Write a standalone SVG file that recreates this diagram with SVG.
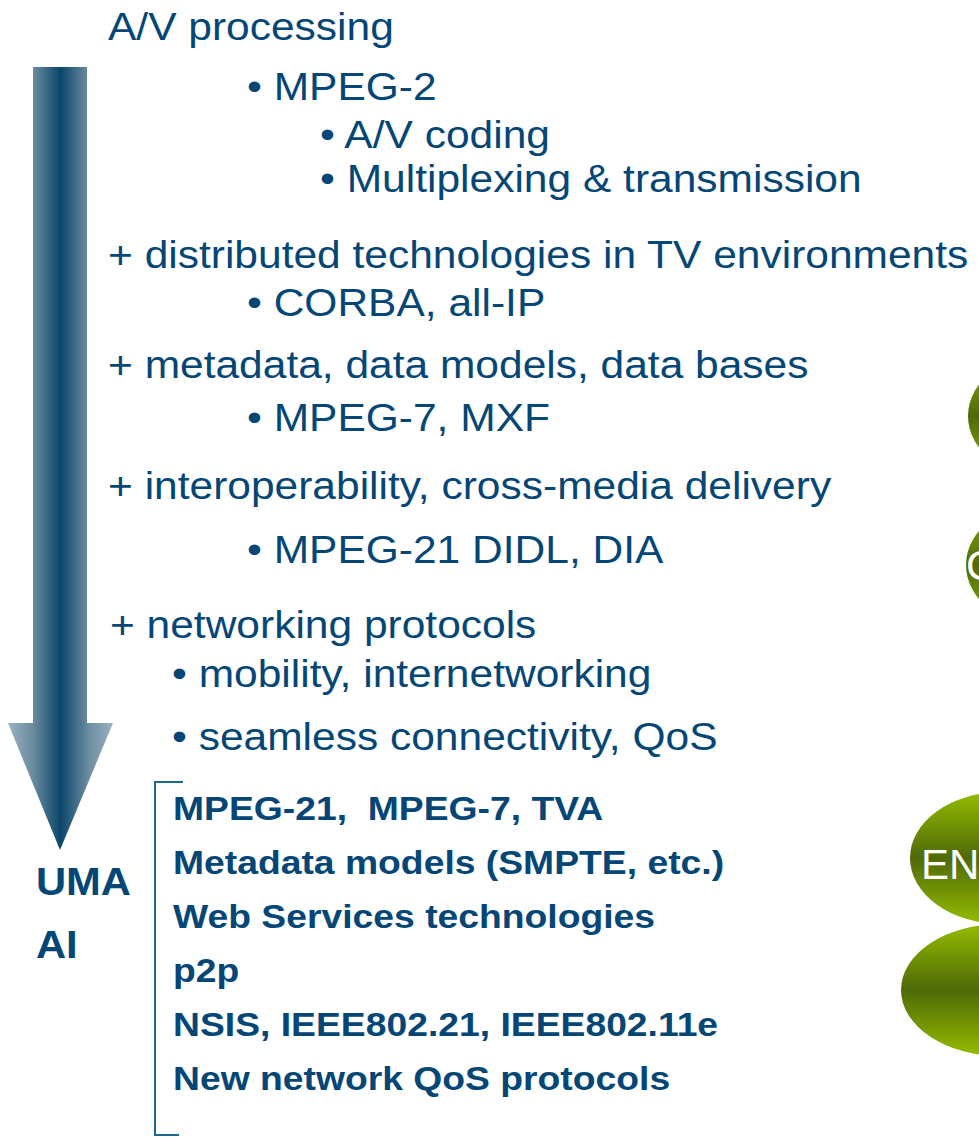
<svg xmlns="http://www.w3.org/2000/svg" width="979" height="1138" viewBox="0 0 979 1138">
  <defs>
    <linearGradient id="arrowShade" gradientUnits="userSpaceOnUse" x1="8" y1="0" x2="113" y2="0">
      <stop offset="0" stop-color="#9ab2c1"/>
      <stop offset="0.24" stop-color="#6a8ba0"/>
      <stop offset="0.5" stop-color="#0b466a"/>
      <stop offset="0.76" stop-color="#6a8ba0"/>
      <stop offset="1" stop-color="#9ab2c1"/>
    </linearGradient>
    <linearGradient id="leafShade" x1="0" y1="0" x2="0" y2="1">
      <stop offset="0" stop-color="#94bc00"/>
      <stop offset="0.5" stop-color="#4f6907"/>
      <stop offset="1" stop-color="#94bc00"/>
    </linearGradient>
    <style>
      .txt { font-family: "Liberation Sans", Arial, sans-serif; fill: #044676; }
      .reg { font-size: 39px; }
      .bold { font-size: 33px; font-weight: bold; }
      .big { font-size: 39px; font-weight: bold; }
      .leaf { fill: url(#leafShade); }
      .leafTxt { font-family: "Liberation Sans", Arial, sans-serif; fill: #ffffff; font-size: 42px; }
      .bracket { fill: none; stroke: #1d6a8c; stroke-width: 2; }
    </style>
  </defs>

  <!-- downward evolution arrow -->
  <g id="arrow">
    <path d="M33 67 H87 V723 H113 L60 850 L8 723 H33 Z" fill="url(#arrowShade)"/>
  </g>

  <!-- green ellipses at the right edge -->
  <g id="leaf1"><ellipse class="leaf" cx="1058" cy="416" rx="90" ry="66"/></g>
  <g id="leaf2">
    <ellipse class="leaf" cx="1056" cy="565" rx="90" ry="66"/>
    <text class="leafTxt" x="966" y="580" font-size="34">C</text>
  </g>
  <g id="leaf3">
    <ellipse class="leaf" cx="1002" cy="858" rx="92" ry="66"/>
    <text class="leafTxt" x="921" y="879">EN</text>
  </g>
  <g id="leaf4"><ellipse class="leaf" cx="1001" cy="990" rx="100" ry="66"/></g>

  <!-- evolution steps (slide text is slightly stretched horizontally) -->
  <g id="steps" class="txt reg" transform="scale(1.09 1)">
    <text x="99.1" y="40">A/V processing</text>
    <text x="226.6" y="100">• MPEG-2</text>
    <text x="293.6" y="148">• A/V coding</text>
    <text x="293.6" y="192">• Multiplexing &amp; transmission</text>
    <text x="99.1" y="268">+ distributed technologies in TV environments</text>
    <text x="226.6" y="316">• CORBA, all-IP</text>
    <text x="99.1" y="378">+ metadata, data models, data bases</text>
    <text x="226.6" y="431">• MPEG-7, MXF</text>
    <text x="99.1" y="499">+ interoperability, cross-media delivery</text>
    <text x="226.6" y="563">• MPEG-21 DIDL, DIA</text>
    <text x="100.9" y="638">+ networking protocols</text>
    <text x="157.8" y="687">• mobility, internetworking</text>
    <text x="157.8" y="750">• seamless connectivity, QoS</text>
  </g>

  <!-- result labels -->
  <g id="result" class="txt big" transform="scale(1.07 1)">
    <text x="33.6" y="895">UMA</text>
    <text x="33.6" y="958">AI</text>
  </g>

  <!-- bracketed list of technologies -->
  <g id="techList">
    <path class="bracket" d="M183 782 H155 V1135 H179"/>
    <g class="txt bold" transform="scale(1.13 1)">
      <text x="153.1" y="820" xml:space="preserve">MPEG-21,  MPEG-7, TVA</text>
      <text x="153.1" y="874">Metadata models (SMPTE, etc.)</text>
      <text x="153.1" y="928">Web Services technologies</text>
      <text x="153.1" y="982">p2p</text>
      <text x="153.1" y="1036">NSIS, IEEE802.21, IEEE802.11e</text>
      <text x="153.1" y="1090">New network QoS protocols</text>
    </g>
  </g>
</svg>
